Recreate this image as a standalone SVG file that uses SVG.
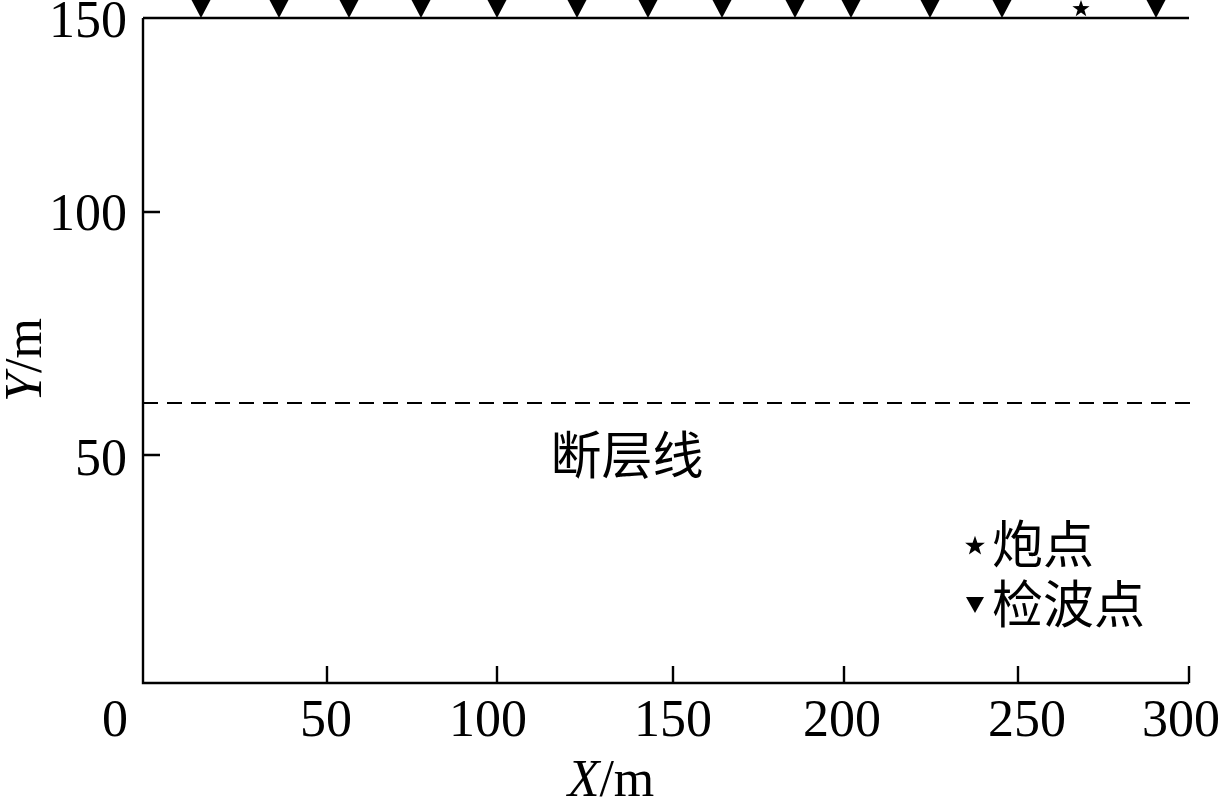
<svg xmlns="http://www.w3.org/2000/svg" width="1221" height="800" viewBox="0 0 1221 800">
<defs>
<style>
.ax{stroke:#000;stroke-width:2.4;fill:none}
.num{font-family:"Liberation Serif","Times New Roman",serif;font-size:52px;fill:#000}
.cjk{font-family:"Liberation Serif","Noto Sans CJK SC",serif;font-size:51px;fill:#000}
.dash{stroke:#000;stroke-width:2;stroke-dasharray:15 9;fill:none}
</style>
<path id="tri" d="M-10,-1 L10,-1 L0,18 Z" fill="#000"/>
<path id="star" d="M0,-9 L2.1,-2.9 L8.6,-2.8 L3.4,1.1 L5.3,7.3 L0,3.6 L-5.3,7.3 L-3.4,1.1 L-8.6,-2.8 L-2.1,-2.9 Z" fill="#000"/>
</defs>
<rect width="1221" height="800" fill="#fff"/>
<g id="axes">
<path class="ax" d="M143,18 L143,683 L1189,683 M143,18 L1189,18"/>
<path class="ax" d="M143,212 L160,212 M143,455 L160,455 M327,683 L327,666 M497,683 L497,666 M673,683 L673,666 M844,683 L844,666 M1018,683 L1018,666 M1189,683 L1189,666"/>
</g>
<g id="ticklabels">
<text class="num" x="127" y="37" text-anchor="end">150</text>
<text class="num" x="127" y="230" text-anchor="end">100</text>
<text class="num" x="127" y="475" text-anchor="end">50</text>
<text class="num" x="115" y="736" text-anchor="middle">0</text>
<text class="num" x="326" y="736" text-anchor="middle">50</text>
<text class="num" x="488" y="736" text-anchor="middle">100</text>
<text class="num" x="673" y="736" text-anchor="middle">150</text>
<text class="num" x="842" y="736" text-anchor="middle">200</text>
<text class="num" x="1027" y="736" text-anchor="middle">250</text>
<text class="num" x="1181" y="736" text-anchor="middle">300</text>
</g>
<g id="axis-titles">
<text class="num" x="611" y="796" text-anchor="middle"><tspan font-style="italic">X</tspan>/m</text>
<text class="num" transform="translate(41,360) rotate(-90)" text-anchor="middle"><tspan font-style="italic">Y</tspan>/m</text>
</g>
<g id="fault">
<path class="dash" d="M143,403 L1193,403"/>
<text class="cjk" x="627" y="474" text-anchor="middle">断层线</text>
</g>
<g id="receivers">
<use href="#tri" x="201" y="0"/>
<use href="#tri" x="279" y="0"/>
<use href="#tri" x="349" y="0"/>
<use href="#tri" x="421" y="0"/>
<use href="#tri" x="497" y="0"/>
<use href="#tri" x="577" y="0"/>
<use href="#tri" x="648" y="0"/>
<use href="#tri" x="722" y="0"/>
<use href="#tri" x="795" y="0"/>
<use href="#tri" x="851" y="0"/>
<use href="#tri" x="930" y="0"/>
<use href="#tri" x="1002" y="0"/>
<use href="#tri" x="1156" y="0"/>
</g>
<g id="source">
<use href="#star" x="1081" y="9"/>
</g>
<g id="legend">
<use href="#star" transform="translate(975,546) scale(1.15)"/>
<text class="cjk" x="992" y="563">炮点</text>
<path d="M966,597 L984,597 L975,613 Z" fill="#000"/>
<text class="cjk" x="992" y="623">检波点</text>
</g>
</svg>
